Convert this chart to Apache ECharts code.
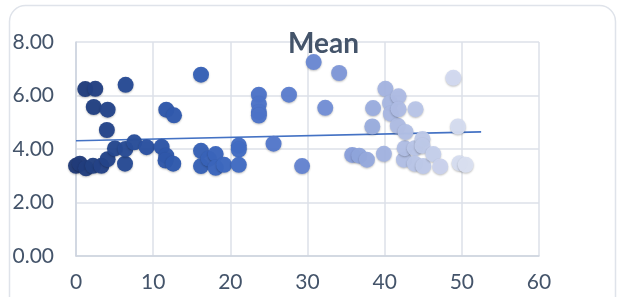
<!DOCTYPE html>
<html><head><meta charset="utf-8">
<script src="https://cdn.jsdelivr.net/npm/echarts@6/dist/echarts.min.js"></script>
<style>html,body{margin:0;padding:0;background:#fff;}#c{width:622px;height:297px;}</style>
</head><body><div id="c"></div>
<script>
const title = "Mean";
const xValues = [0,0.5,1.3,1.2,2.2,2.3,2.5,3.3,4.0,4.1,4.1,5.05,6.35,6.4,6.43,7.55,9.15,11.1,11.7,11.7,11.6,12.7,12.6,16.2,16.2,16.2,17.2,18.1,18.1,19.2,21.1,21.1,21.1,23.7,23.7,23.7,23.7,25.6,27.6,29.3,30.8,32.3,34.1,35.8,36.7,37.7,38.4,38.5,39.9,40.1,40.7,40.8,41.7,41.8,41.8,42.5,42.6,42.7,43.9,43.9,44.0,44.9,44.9,45.0,46.3,47.2,48.9,49.5,49.7,50.5];
const yValues = [3.37,3.45,3.28,6.24,3.37,5.57,6.25,3.37,4.71,3.62,5.47,4.02,3.45,4.0,6.40,4.25,4.07,4.08,5.47,3.75,3.57,5.26,3.45,6.78,3.93,3.36,3.64,3.81,3.3,3.41,4.13,3.98,3.41,6.03,5.68,5.38,5.25,4.2,6.03,3.36,7.25,5.54,6.84,3.78,3.75,3.6,4.84,5.53,3.82,6.25,5.72,5.32,4.87,5.97,5.49,3.6,4.03,4.64,4.03,3.45,5.49,4.37,4.12,3.36,3.81,3.35,6.66,4.84,3.47,3.41];
const trendX = [0, 52.5];
const trendY = [4.31, 4.64];
const xTicks = [0,10,20,30,40,50,60];
const yTicks = [0,2,4,6,8];

const pts = xValues.map((x,i)=>[x,yValues[i]]);
const chart = echarts.init(document.getElementById('c'), null, {renderer:'canvas'});
const txt = '#44546a';
const grid = '#dde1e9';
chart.setOption({
  animation:false,
  graphic:[{type:'rect', left:7, top:3, shape:{width:606, height:310, r:16}, style:{fill:'none', stroke:'#dfe3ea', lineWidth:1.5}, z:-1}],
  title:{text:title, left:283, top:25, textStyle:{fontFamily:'Lato', fontWeight:'bold', fontSize:28, color:txt}},
  grid:{left:76, right:83, top:42, bottom:41},
  xAxis:{type:'value', min:0, max:60, interval:10,
    axisLine:{show:true, lineStyle:{color:'#cdd3de', width:1.5}}, axisTick:{show:false},
    splitLine:{show:true, lineStyle:{color:grid, width:1.5}},
    axisLabel:{color:txt, fontFamily:'Lato', fontSize:21, margin:16, formatter:v=>xTicks.includes(v)?String(v):''}},
  yAxis:{type:'value', min:0, max:8, interval:2,
    axisLine:{show:true, lineStyle:{color:'#cdd3de', width:1.5}}, axisTick:{show:false},
    splitLine:{show:true, lineStyle:{color:grid, width:1.5}},
    axisLabel:{color:txt, fontFamily:'Lato', fontSize:21, margin:22, formatter:v=>yTicks.includes(v)?v.toFixed(2):''}},
  visualMap:{show:false, type:'continuous', dimension:0, seriesIndex:0, min:0, max:51,
    inRange:{color:['#213b78','#2c55a6','#3f6ac2','#6a88d3','#a9b8e2','#dde2f2']}},
  series:[
    {type:'scatter', data:pts, symbolSize:16,
      itemStyle:{opacity:0.97, shadowBlur:2, shadowColor:'rgba(0,0,0,0.25)', shadowOffsetY:1}},
    {type:'line', data:trendX.map((x,i)=>[x,trendY[i]]), showSymbol:false, symbol:'none', z:1,
      lineStyle:{color:'#4472c4', width:1.6}}
  ]
});
</script></body></html>
